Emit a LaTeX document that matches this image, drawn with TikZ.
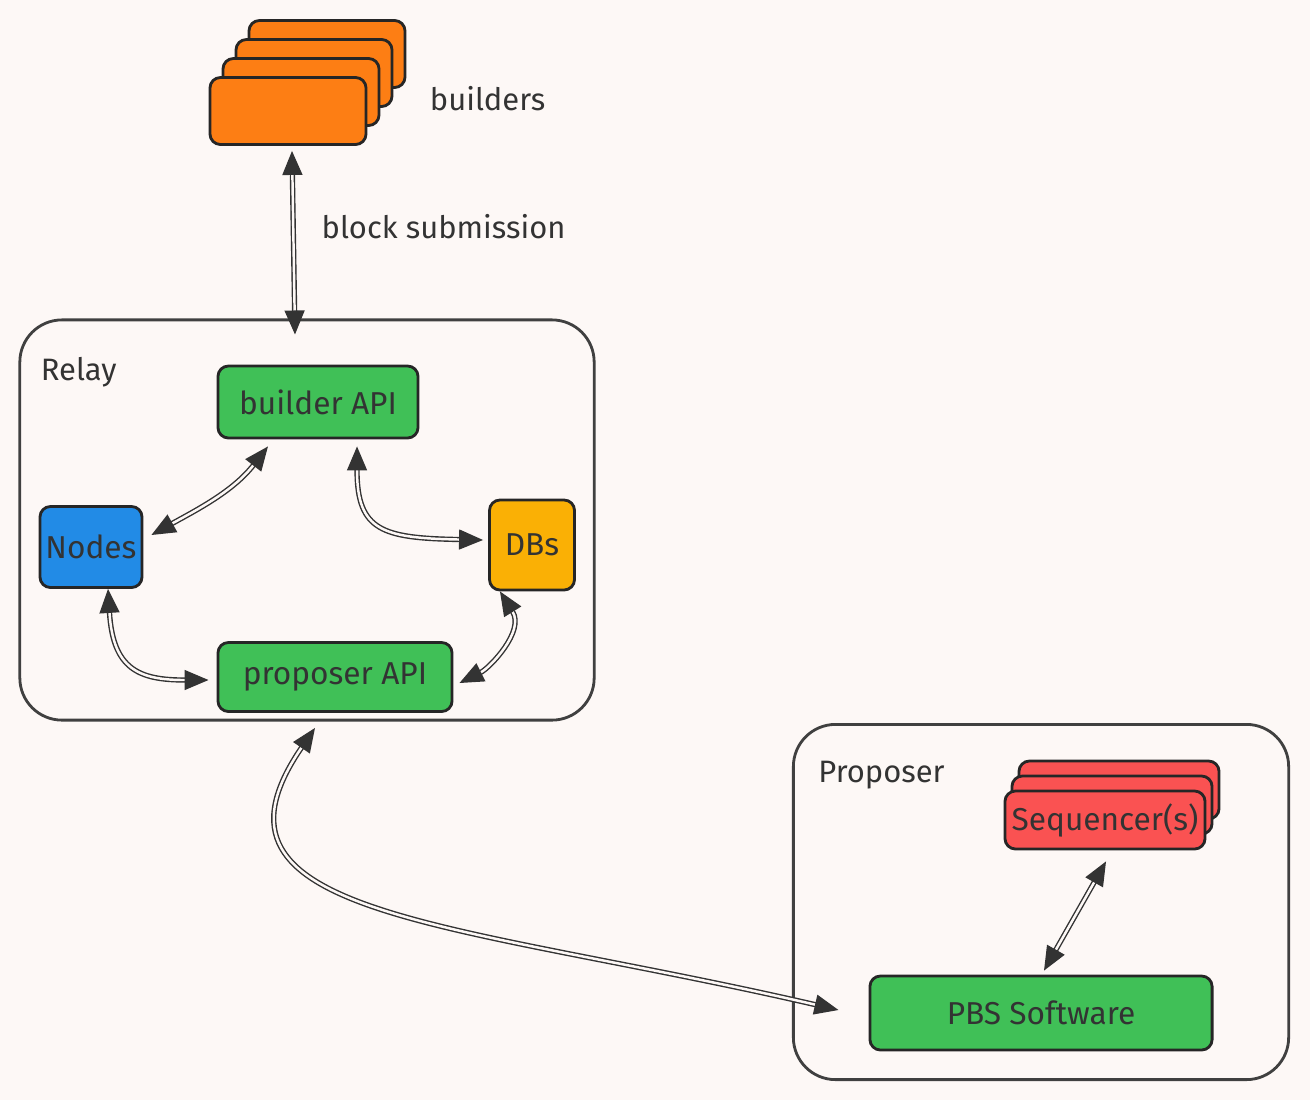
\documentclass[tikz,border=0pt]{standalone}
\usepackage{fontspec}
\setmainfont{Fira Sans}
\usetikzlibrary{arrows.meta, positioning}
\definecolor{paper}{RGB}{253,248,246}
\definecolor{myorange}{RGB}{253,126,20}
\definecolor{mygreen}{RGB}{64,192,87}
\definecolor{myblue}{RGB}{34,139,230}
\definecolor{myyellow}{RGB}{250,176,5}
\definecolor{myred}{RGB}{250,82,82}

\begin{document}
\begin{tikzpicture}[
    x=0.01cm, y=-0.01cm,
    box/.style={draw=black!85, line width=0.8pt, rounded corners=3pt, inner sep=0pt,
                font=\fontsize{9}{11}\selectfont, text=black!80},
    frame/.style={draw=black!75, line width=0.8pt, rounded corners=12pt, minimum width=#1},
    link/.style={{Triangle[length=2.4mm, width=2mm]}-{Triangle[length=2.4mm, width=2mm]},
                 draw=black!80, line width=0.4pt, double=paper, double distance=0.7pt},
    caption/.style={font=\fontsize{8.8}{11}\selectfont, text=black!80}
]

    % paper and picture size
    \fill[paper] (0,0) rectangle (1310,1100);

    % Builders stack, back to front
    \foreach \k in {3,2,1} {
      \node[box, fill=myorange, minimum width=1.56cm, minimum height=0.67cm]
        at ({288+13*\k},{111-19*\k}) {};
    }
    \node[box, fill=myorange, minimum width=1.56cm, minimum height=0.67cm] (builders) at (288,111) {};
    \node[caption, right=0.5cm of builders, yshift=0.12cm] (builders_lbl) {builders};

    % Relay frame
    \node[frame=5.74cm, minimum height=4cm] (relay) at (307,520) {};
    \node[caption, anchor=north west] (relay_lbl) at ([xshift=0.1cm, yshift=-0.26cm]relay.north west) {Relay};

    % Relay parts
    \node[box, fill=mygreen, minimum width=2cm, minimum height=0.72cm] (bapi) at (318,402) {builder API};
    \node[box, fill=myblue, minimum width=1.02cm, minimum height=0.81cm] (nodes) at (91,547) {Nodes};
    \node[box, fill=myyellow, minimum width=0.85cm, minimum height=0.9cm] (dbs) at (532,545) {DBs};
    \node[box, fill=mygreen, minimum width=2.34cm, minimum height=0.69cm] (papi) at (335,677) {proposer API};

    % Proposer frame
    \node[frame=4.95cm, minimum height=3.55cm] (proposer) at (1041,902) {};
    \node[caption, anchor=north west] (proposer_lbl) at ([xshift=0.14cm, yshift=-0.26cm]proposer.north west) {Proposer};

    % Sequencer stack, back to front
    \foreach \k in {2,1} {
      \node[box, fill=myred, minimum width=2cm, minimum height=0.58cm]
        at ({1105+7*\k},{820-15*\k}) {};
    }
    \node[box, fill=myred, minimum width=2cm, minimum height=0.58cm] (seq) at (1105,820) {Sequencer(s)};
    \node[box, fill=mygreen, minimum width=3.42cm, minimum height=0.74cm] (pbs) at (1041,1013) {PBS Software};

    % Arrows - builders to relay
    \draw[link] ([xshift=0.04cm, yshift=-0.05cm]builders.south) -- ([xshift=-0.12cm, yshift=-0.16cm]relay.north)
      node[caption, pos=0.41, anchor=west, xshift=0.16cm] (block_lbl) {block submission};

    % Arrows - inside the relay
    \draw[link] ([xshift=-0.5cm, yshift=-0.07cm]bapi.south)
      .. controls +(-35,45) and +(45,-25) .. ([xshift=0.08cm, yshift=0.12cm]nodes.east);
    \draw[link] ([xshift=0.39cm, yshift=-0.07cm]bapi.south)
      .. controls +(0,85) and +(-100,-2) .. ([xshift=-0.05cm, yshift=0.05cm]dbs.west);
    \draw[link] ([xshift=0.17cm]nodes.south)
      .. controls +(5,80) and +(-70,0) .. ([xshift=-0.08cm, yshift=-0.03cm]papi.west);
    \draw[link] ([xshift=-0.32cm]dbs.south)
      .. controls +(25,40) and +(30,-15) .. ([xshift=0.06cm, yshift=-0.06cm]papi.east);

    % Arrow - relay to proposer
    \draw[link] ([xshift=-0.2cm, yshift=-0.15cm]papi.south)
      .. controls +(-130,190) and +(-390,-90) .. ([xshift=-0.3cm, yshift=0.03cm]pbs.west);

    % Arrow - inside the proposer
    \draw[link] ([xshift=0.01cm, yshift=-0.11cm]seq.south) -- ([xshift=0.03cm, yshift=0.04cm]pbs.north);

\end{tikzpicture}
\end{document}
